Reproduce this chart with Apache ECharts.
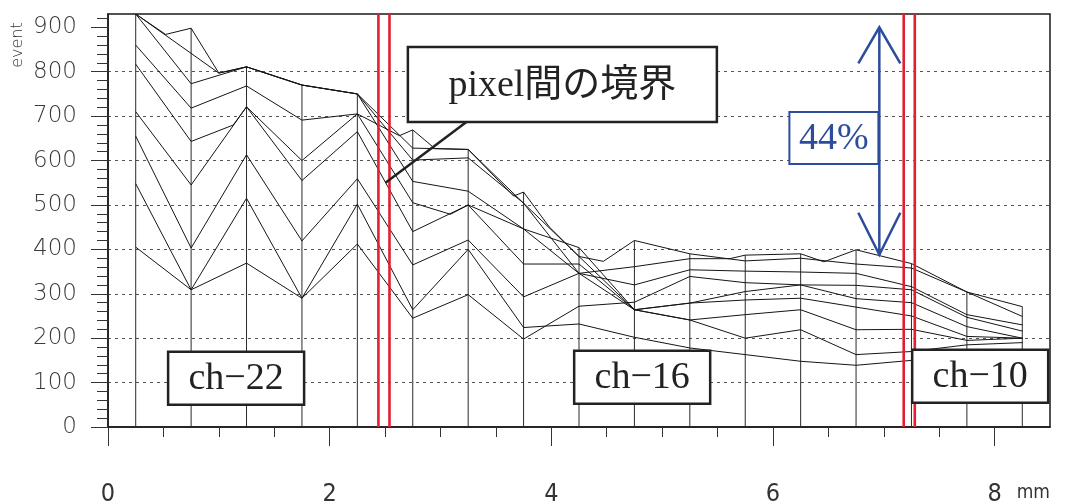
<!DOCTYPE html>
<html>
<head>
<meta charset="utf-8">
<script src="https://cdn.jsdelivr.net/npm/echarts@6/dist/echarts.min.js"></script>
<style>
  html, body { margin: 0; padding: 0; background: #fff; }
  #main { width: 1068px; height: 504px; }
</style>
</head>
<body>
<div id="main"></div>
<script>
// Channel centre positions along the strip (mm)
const colX = [0.25, 0.75, 1.25, 1.75, 2.25, 2.75, 3.25, 3.75, 4.25, 4.75, 5.25, 5.75, 6.25, 6.75, 7.25, 7.75, 8.25];

// Event counts per channel for each profile (null = no sample at that channel)
const lineA = [930, 898, 811, 770, 750, 628, 625, 529, 384, 420, 390, 374, 380, 367, 358, 304, 249];
const lineB = [930, null, 811, 770, 750, 601, 606, 504, 346, 361, 379, 387, 390, 399, 368, 304, 271];
const lineC = [930, 773, 811, 770, 750, 553, 531, 446, 404, 264, 279, 305, 320, 319, 309, 247, 216];
const lineD = [860, 718, 768, 691, 705, 669, 625, 504, 384, 264, 279, 286, 290, 270, 250, 204, 200];
const lineE = [817, 643, 721, 555, 665, 440, 500, 367, 367, 264, 241, 253, 264, 219, 220, 195, 200];
const lineF = [710, 545, 721, 600, 705, 505, 500, 446, 346, 264, 241, 200, 219, 163, 170, 185, 190];
const lineG = [655, 403, 613, 419, 559, 365, 421, 293, 346, 320, 354, 351, 349, 346, 316, 253, 230];
const lineH = [548, 309, 515, 290, 502, 264, 400, 224, 232, 202, 178, 163, 148, 139, 150, 160, 170];
const lineI = [405, 309, 369, 290, 412, 245, 298, 198, 272, 281, 339, 325, 320, 289, 280, 226, 200];

// Intermediate samples between channels
const extraA = [[0.52, 884], [1.0, 797], [3.66, 520], [3.98, 451], [4.47, 373]];
const extraB = [[1.0, 797], [5.61, 379], [6.46, 372]];
const extraD = [[2.63, 656], [2.95, 627]];
const extraE = [[1.13, 680]];
const extraF = [[3.09, 479]];

// Pixel boundaries (mm)
const boundaryX = [2.44, 2.54, 7.18, 7.28];

// Arrow showing the drop across the boundary
const arrowSpan = [6.96, 388, 900];
const arrowLabel = '44%';
const arrowLabelAt = [6.55, 651];

// Channel labels
const chLabels = ['ch\u221222', 'ch\u221216', 'ch\u221210'];
const chLabelX = [1.156, 4.82, 7.87];
const chLabelY = [110, 112, 114];

// Boundary note with its pointer
const noteText = 'pixel間の境界';
const noteAt = [4.10, 771];
const notePointer = [3.234, 687, 2.504, 550];

// Axis ticks
const yTicks = [0, 100, 200, 300, 400, 500, 600, 700, 800, 900];
const xTicks = [0, 2, 4, 6, 8];

function buildPoints(values, extra) {
  const pts = [];
  values.forEach((v, i) => { if (v != null) pts.push([colX[i], v]); });
  (extra || []).forEach(p => pts.push(p));
  pts.sort((a, b) => a[0] - b[0]);
  return pts;
}

const profiles = [
  [lineA, extraA], [lineB, extraB], [lineC], [lineD, extraD], [lineE, extraE],
  [lineF, extraF], [lineG], [lineH], [lineI]
];

// Tallest value at each channel, used for the channel stems
const colMax = colX.map((x, i) => Math.max(...profiles.map(p => p[0][i] == null ? 0 : p[0][i])));

const serif = '"Liberation Serif", "Noto Sans CJK JP", serif';
const blue = '#2c4c9c';

const boxStyles = {
  ch: { w: 136, h: 53, stroke: '#222', lw: 2.5, fill: '#222', font: '38px ' + serif },
  note: { w: 309, h: 75, stroke: '#222', lw: 2.5, fill: '#222', font: '38px ' + serif },
  pct: { w: 89, h: 52, stroke: blue, lw: 2, fill: blue, font: '38px ' + serif }
};

const boxData = [];
chLabels.forEach((t, i) => boxData.push({ value: [chLabelX[i], chLabelY[i]], text: t, kind: 'ch' }));
boxData.push({ value: noteAt, text: noteText, kind: 'note' });
boxData.push({ value: arrowLabelAt, text: arrowLabel, kind: 'pct' });

const chart = echarts.init(document.getElementById('main'), null, { renderer: 'canvas' });

const lineSeries = profiles.map((p, k) => ({
  type: 'line',
  name: 'p' + k,
  data: buildPoints(p[0], p[1]),
  showSymbol: false,
  symbol: 'none',
  lineStyle: { color: '#151515', width: 1 },
  z: 3,
  silent: true
}));

chart.setOption({
  animation: false,
  backgroundColor: '#fff',
  grid: {
    left: 108, right: 18, top: 14, bottom: 77,
    show: true, borderColor: '#1a1a1a', borderWidth: 1.5, backgroundColor: 'transparent',
    outerBoundsMode: 'none', containLabel: false
  },
  xAxis: {
    type: 'value', min: 0, max: 8.5, interval: 2,
    name: 'mm', nameLocation: 'end', nameGap: 0,
    nameTextStyle: { align: 'right', verticalAlign: 'top', padding: [57, 0, 0, 0], fontSize: 19, color: '#333', fontFamily: '"Liberation Sans Narrow", "DejaVu Sans Condensed", sans-serif' },
    axisLine: { show: true, onZero: false, lineStyle: { color: '#1a1a1a', width: 1.5 } },
    axisTick: { show: true, length: 19, customValues: xTicks, lineStyle: { color: '#333', width: 1 } },
    minorTick: { show: true, splitNumber: 4, length: 10, lineStyle: { color: '#333', width: 1 } },
    axisLabel: { customValues: xTicks, margin: 55, fontSize: 25, color: '#333', fontFamily: '"Liberation Sans Narrow", "DejaVu Sans Condensed", sans-serif' },
    splitLine: { show: false }
  },
  yAxis: {
    type: 'value', min: 0, max: 930, interval: 100,
    axisLine: { show: true, onZero: false, lineStyle: { color: '#1a1a1a', width: 1.5 } },
    axisTick: { show: true, length: 17, customValues: yTicks, lineStyle: { color: '#333', width: 1 } },
    minorTick: { show: true, splitNumber: 5, length: 11, lineStyle: { color: '#333', width: 1 } },
    axisLabel: { customValues: yTicks, margin: 31, fontSize: 23, color: '#3a3a3a', fontFamily: '"DejaVu Sans", sans-serif', fontWeight: 200 },
    splitLine: { show: true, showMinLine: false, showMaxLine: false, lineStyle: { color: '#555', width: 1, type: [3, 4] } }
  },
  graphic: [{
    type: 'text', x: 18, y: 45, rotation: Math.PI / 2,
    style: { text: 'event', font: '200 16px "DejaVu Sans", sans-serif', fill: '#333', align: 'center', verticalAlign: 'middle' }
  }],
  series: [
    // channel stems
    {
      type: 'custom', name: 'stems', silent: true, z: 2,
      data: colX.map((x, i) => [x, colMax[i]]),
      renderItem: (params, api) => {
        const a = api.coord([api.value(0), 0]);
        const b = api.coord([api.value(0), api.value(1)]);
        return { type: 'line', shape: { x1: a[0], y1: a[1], x2: b[0], y2: b[1] }, style: { stroke: '#2a2a2a', lineWidth: 1 } };
      }
    },
    ...lineSeries,
    // pixel boundaries
    {
      type: 'custom', name: 'boundaries', silent: true, z: 4,
      data: boundaryX.map(x => [x, 930]),
      renderItem: (params, api) => {
        const a = api.coord([api.value(0), 0]);
        const b = api.coord([api.value(0), api.value(1)]);
        return { type: 'line', shape: { x1: a[0], y1: a[1], x2: b[0], y2: b[1] }, style: { stroke: '#e02030', lineWidth: 2.6 } };
      }
    },
    // pointer from the note to the boundary
    {
      type: 'custom', name: 'pointer', silent: true, z: 5,
      data: [notePointer],
      renderItem: (params, api) => {
        const a = api.coord([api.value(0), api.value(1)]);
        const b = api.coord([api.value(2), api.value(3)]);
        return { type: 'line', shape: { x1: a[0], y1: a[1], x2: b[0], y2: b[1] }, style: { stroke: '#222', lineWidth: 2.5 } };
      }
    },
    // double-headed arrow
    {
      type: 'custom', name: 'arrow', silent: true, z: 5,
      data: [arrowSpan],
      renderItem: (params, api) => {
        const x = api.value(0);
        const bot = api.coord([x, api.value(1)]);
        const top = api.coord([x, api.value(2)]);
        const st = { stroke: blue, lineWidth: 2.5, fill: 'none' };
        return {
          type: 'group',
          children: [
            { type: 'line', shape: { x1: top[0], y1: top[1], x2: bot[0], y2: bot[1] }, style: st },
            { type: 'polyline', shape: { points: [[top[0] - 21, top[1] + 36], [top[0], top[1]], [top[0] + 21, top[1] + 36]] }, style: st },
            { type: 'polyline', shape: { points: [[bot[0] - 21, bot[1] - 42], [bot[0], bot[1]], [bot[0] + 21, bot[1] - 42]] }, style: st }
          ]
        };
      }
    },
    // labelled boxes
    {
      type: 'custom', name: 'labels', silent: true, z: 6,
      data: boxData,
      renderItem: (params, api) => {
        const item = boxData[params.dataIndex];
        const s = boxStyles[item.kind];
        const p = api.coord([api.value(0), api.value(1)]);
        return {
          type: 'group',
          children: [
            { type: 'rect', shape: { x: p[0] - s.w / 2, y: p[1] - s.h / 2, width: s.w, height: s.h }, style: { fill: '#fff', stroke: s.stroke, lineWidth: s.lw } },
            { type: 'text', style: { x: p[0], y: p[1] + 1, text: item.text, font: s.font, fill: s.fill, align: 'center', verticalAlign: 'middle' } }
          ]
        };
      }
    }
  ]
});
</script>
</body>
</html>
